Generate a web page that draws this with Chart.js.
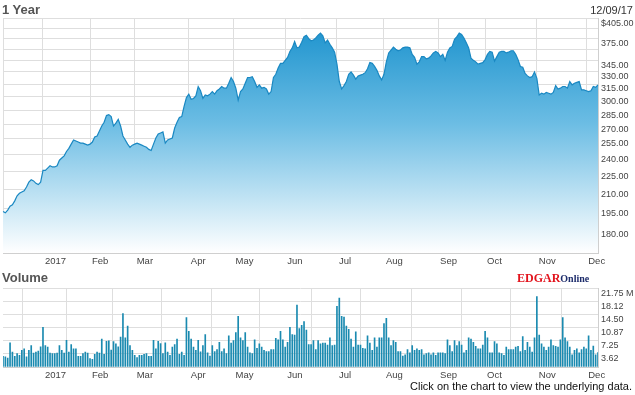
<!DOCTYPE html>
<html lang="en">
<head>
    <meta charset="UTF-8">
    <title>1 Year price and volume</title>
    <script src="https://cdn.jsdelivr.net/npm/chart.js"></script>
    <style>
        body {
            margin: 0;
            background: #fff;
            font-family: 'Liberation Sans', Arial, sans-serif;
        }
        #wrap {
            position: relative;
            width: 635px;
            height: 395px;
            overflow: hidden;
        }
        .box {
            position: absolute;
            left: 0;
            width: 635px;
        }
        .title {
            position: absolute;
            left: 2px;
            font-size: 13px;
            line-height: 15px;
            font-weight: bold;
            color: #555;
        }
        .date {
            position: absolute;
            right: 2px;
            top: 4px;
            font-size: 11px;
            line-height: 13px;
            color: #333;
        }
        .logo {
            position: absolute;
            left: 517px;
            top: 270px;
            font-family: 'Liberation Serif', 'Times New Roman', serif;
            font-weight: bold;
            line-height: 14px;
            white-space: nowrap;
        }
        .logo .edgar { color: #e2131c; font-size: 12px; }
        .logo .online { color: #1d2c6b; font-size: 10px; }
        .note {
            position: absolute;
            right: 3px;
            top: 380px;
            font-size: 11px;
            line-height: 13px;
            color: #111;
        }
    </style>
</head>
<body>
<div id="wrap">
    <div class="box" style="top:0;height:272px"><canvas id="priceChart"></canvas></div>
    <div class="box" style="top:280px;height:105px"><canvas id="volumeChart"></canvas></div>
    <div class="title" style="top:2px">1 Year</div>
    <div class="date">12/09/17</div>
    <div class="title" style="top:270px">Volume</div>
    <div class="logo"><span class="edgar">EDGAR</span><span class="online">Online</span></div>
    <div class="note">Click on the chart to view the underlying data.</div>
</div>

<script>
    // closing prices, one per trading day, 12/07/16 .. 12/08/17
    const prices = [
        193, 192, 194, 197, 198, 201, 205, 207, 208, 209,
        212, 216, 218, 217, 215, 214, 216, 226, 226, 228,
        230, 229, 229, 230, 235, 237, 239, 243, 246, 250,
        254, 253, 252, 251, 251, 250, 249, 250, 252, 257,
        258, 263, 268, 272, 279, 280, 278, 268, 271, 275,
        268, 258, 254, 250, 247, 249, 250, 251, 250, 249,
        248, 247, 245, 244, 250, 256, 260, 261, 262, 251,
        254, 255, 256, 266, 272, 277, 278, 289, 299, 303,
        297, 298, 301, 312, 307, 298, 302, 301, 303, 306,
        303, 307, 309, 312, 310, 310, 316, 323, 318, 310,
        296, 306, 309, 316, 323, 323, 324, 318, 311, 314,
        310, 311, 309, 303, 306, 323, 327, 335, 341, 341,
        345, 349, 357, 362, 371, 362, 363, 370, 378, 380,
        375, 372, 373, 376, 380, 383, 379, 369, 373, 367,
        362, 356, 340, 318, 309, 313, 318, 327, 330, 326,
        321, 325, 326, 327, 329, 334, 342, 341, 337, 332,
        325, 320, 327, 343, 355, 359, 363, 360, 358, 359,
        362, 363, 363, 362, 353, 349, 340, 343, 350, 350,
        347, 348, 351, 355, 357, 355, 350, 353, 345, 356,
        362, 364, 374, 378, 383, 381, 376, 369, 362, 348,
        345, 343, 340, 341, 342, 346, 353, 357, 356, 344,
        350, 356, 357, 357, 355, 356, 358, 358, 353, 346,
        337, 336, 328, 325, 323, 324, 330, 322, 302, 304,
        303, 305, 304, 303, 305, 313, 309, 310, 312, 312,
        310, 318, 314, 316, 317, 318, 308, 308, 307, 306,
        307, 312, 311, 314
    ];

    // volume in millions of shares
    const volumes = [
        2.95, 2.8, 2.5, 6.7, 4.1, 2.95, 3.7, 3.2, 4.6, 5.0,
        2.8, 4.6, 5.9, 3.85, 4.1, 4.4, 5.6, 11.0, 5.9, 5.5,
        3.85, 3.7, 3.7, 3.85, 5.9, 4.6, 3.85, 7.4, 4.1, 6.2,
        5.0, 5.0, 2.95, 2.95, 3.7, 4.1, 3.85, 2.3, 2.1, 3.5,
        4.1, 3.85, 7.7, 3.5, 7.1, 7.25, 4.7, 7.0, 6.4, 5.6,
        8.3, 14.8, 8.1, 11.3, 5.9, 4.6, 3.2, 2.6, 3.2, 3.2,
        3.5, 3.7, 2.95, 2.95, 7.4, 5.0, 7.1, 6.5, 3.7, 6.7,
        4.1, 3.2, 5.5, 6.2, 7.7, 3.5, 4.1, 3.2, 13.7, 9.9,
        7.7, 5.5, 4.6, 7.4, 4.2, 5.9, 9.0, 3.9, 3.0, 5.9,
        4.3, 4.8, 6.8, 4.3, 5.0, 3.7, 8.6, 6.6, 7.3, 9.5,
        14.0, 8.1, 7.3, 9.5, 5.5, 3.9, 3.7, 7.5, 5.2, 6.4,
        5.5, 4.6, 4.3, 4.3, 4.8, 4.8, 7.9, 7.5, 9.9, 7.5,
        5.5, 6.8, 11.0, 9.0, 8.8, 17.1, 10.6, 11.5, 12.6, 10.2,
        6.2, 6.2, 7.3, 4.8, 7.3, 6.4, 6.6, 6.6, 6.1, 8.1,
        5.9, 6.1, 16.8, 19.1, 14.0, 13.8, 11.3, 10.4, 7.7, 5.5,
        9.7, 6.1, 6.1, 5.2, 5.0, 8.6, 6.6, 4.6, 8.1, 5.5,
        8.1, 8.1, 12.0, 13.5, 8.1, 5.9, 7.3, 6.8, 4.3, 4.3,
        3.0, 3.4, 4.8, 3.9, 5.9, 4.6, 5.0, 4.6, 4.8, 3.4,
        3.7, 3.9, 3.4, 3.9, 3.2, 3.9, 3.9, 3.9, 3.7, 7.5,
        5.9, 4.3, 7.3, 5.9, 7.0, 6.1, 3.9, 4.6, 8.1, 7.7,
        6.8, 5.7, 5.0, 5.0, 6.1, 9.9, 8.1, 3.9, 3.9, 7.0,
        6.4, 3.9, 3.7, 3.2, 5.5, 4.8, 4.8, 4.8, 5.5, 5.7,
        4.3, 8.4, 4.6, 6.8, 5.5, 4.1, 8.1, 19.5, 8.8, 6.4,
        5.5, 4.6, 5.5, 7.5, 5.9, 5.7, 5.5, 7.5, 13.7, 8.1,
        7.0, 5.5, 3.4, 4.6, 5.0, 3.9, 4.8, 5.5, 5.0, 8.6,
        4.6, 5.8, 3.4, 4.0
    ];

    const priceTicks = [180, 195, 210, 225, 240, 255, 270, 285, 300, 315, 330, 345, 360, 375, 390, 405];
    const priceTickLabels = ['180.00', '195.00', '210.00', '225.00', '240.00', '255.00', '270.00', '285.00',
        '300.00', '315.00', '330.00', '345.00', '', '375.00', '', '$405.00'];

    const volumeTicks = [0, 3.625, 7.25, 10.875, 14.5, 18.125, 21.75];
    const volumeTickLabels = ['', '3.62', '7.25', '10.87', '14.50', '18.12', '21.75 M'];

    const monthNames = ['2017', 'Feb', 'Mar', 'Apr', 'May', 'Jun', 'Jul', 'Aug', 'Sep', 'Oct', 'Nov', 'Dec'];
    const holidays = ['2016-12-26', '2017-01-02', '2017-01-16', '2017-02-20', '2017-04-14',
        '2017-05-29', '2017-07-04', '2017-09-04', '2017-11-23'];

    // trading days for the x axis
    const dates = [];
    for (let d = new Date(Date.UTC(2016, 11, 7)); dates.length < prices.length; d.setUTCDate(d.getUTCDate() + 1)) {
        const iso = d.toISOString().slice(0, 10);
        if (d.getUTCDay() === 0 || d.getUTCDay() === 6 || holidays.includes(iso)) continue;
        dates.push(iso);
    }

    // first trading day of each month gets a grid line and a label
    const monthTicks = [0];
    const monthLabels = { 0: '' };
    dates.forEach((iso, i) => {
        if (i > 0 && iso.slice(5, 7) !== dates[i - 1].slice(5, 7)) {
            monthTicks.push(i);
            monthLabels[i] = iso.slice(0, 4) === '2016' ? '' : monthNames[parseInt(iso.slice(5, 7), 10) - 1];
        }
    });

    const FONT = "'Liberation Sans', Arial, sans-serif";
    const GRID = '#dedede';
    const EDGE = '#cfcfcf';

    function xAxis(height) {
        return {
            type: 'category',
            offset: false,
            grid: { color: GRID, drawTicks: false },
            border: { color: EDGE },
            ticks: {
                autoSkip: false,
                maxRotation: 0,
                align: 'start',
                labelOffset: 2,
                padding: 3,
                color: '#444',
                font: { family: FONT, size: 9.5 },
                callback: v => monthLabels[v]
            },
            afterBuildTicks: s => { s.ticks = monthTicks.map(i => ({ value: i })); },
            afterFit: s => { s.height = height; }
        };
    }

    function yTicks(values, labels) {
        return {
            autoSkip: false,
            color: '#444',
            padding: 3,
            labelOffset: 5,
            font: { family: FONT, size: 9 },
            callback: v => labels[values.indexOf(v)]
        };
    }

    function areaGradient(context) {
        const { ctx, chartArea } = context.chart;
        if (!chartArea) return null;
        const g = ctx.createLinearGradient(0, chartArea.top, 0, chartArea.bottom);
        g.addColorStop(0, '#1790cc');
        g.addColorStop(0.45, '#6cbde4');
        g.addColorStop(1, '#ffffff');
        return g;
    }

    new Chart(document.getElementById('priceChart'), {
        type: 'line',
        data: {
            labels: dates,
            datasets: [{
                data: prices,
                borderColor: '#1a88c2',
                borderWidth: 1.2,
                backgroundColor: areaGradient,
                fill: 'start',
                pointRadius: 0,
                tension: 0
            }]
        },
        options: {
            responsive: true,
            maintainAspectRatio: false,
            animation: false,
            layout: { padding: { top: 18, left: 2, right: 0, bottom: 0 } },
            plugins: { legend: { display: false }, tooltip: { enabled: false } },
            scales: {
                x: xAxis(19),
                y: {
                    type: 'logarithmic',
                    position: 'right',
                    min: 164.5,
                    max: 406,
                    grid: { color: GRID, drawTicks: false },
                    border: { color: EDGE },
                    ticks: yTicks(priceTicks, priceTickLabels),
                    afterBuildTicks: s => { s.ticks = priceTicks.map(v => ({ value: v })); },
                    afterFit: s => { s.width = 37; }
                }
            }
        }
    });

    new Chart(document.getElementById('volumeChart'), {
        type: 'bar',
        data: {
            labels: dates,
            datasets: [{
                data: volumes,
                backgroundColor: '#1a8ab0',
                barThickness: 1
            }]
        },
        options: {
            responsive: true,
            maintainAspectRatio: false,
            animation: false,
            layout: { padding: { top: 6, left: 2, right: 0, bottom: 0 } },
            plugins: { legend: { display: false }, tooltip: { enabled: false } },
            scales: {
                x: xAxis(18),
                y: {
                    position: 'right',
                    min: 0,
                    max: 21.75,
                    grid: { color: GRID, drawTicks: false },
                    border: { color: EDGE },
                    ticks: yTicks(volumeTicks, volumeTickLabels),
                    afterBuildTicks: s => { s.ticks = volumeTicks.map(v => ({ value: v })); },
                    afterFit: s => { s.width = 37; }
                }
            }
        }
    });
</script>
</body>
</html>
